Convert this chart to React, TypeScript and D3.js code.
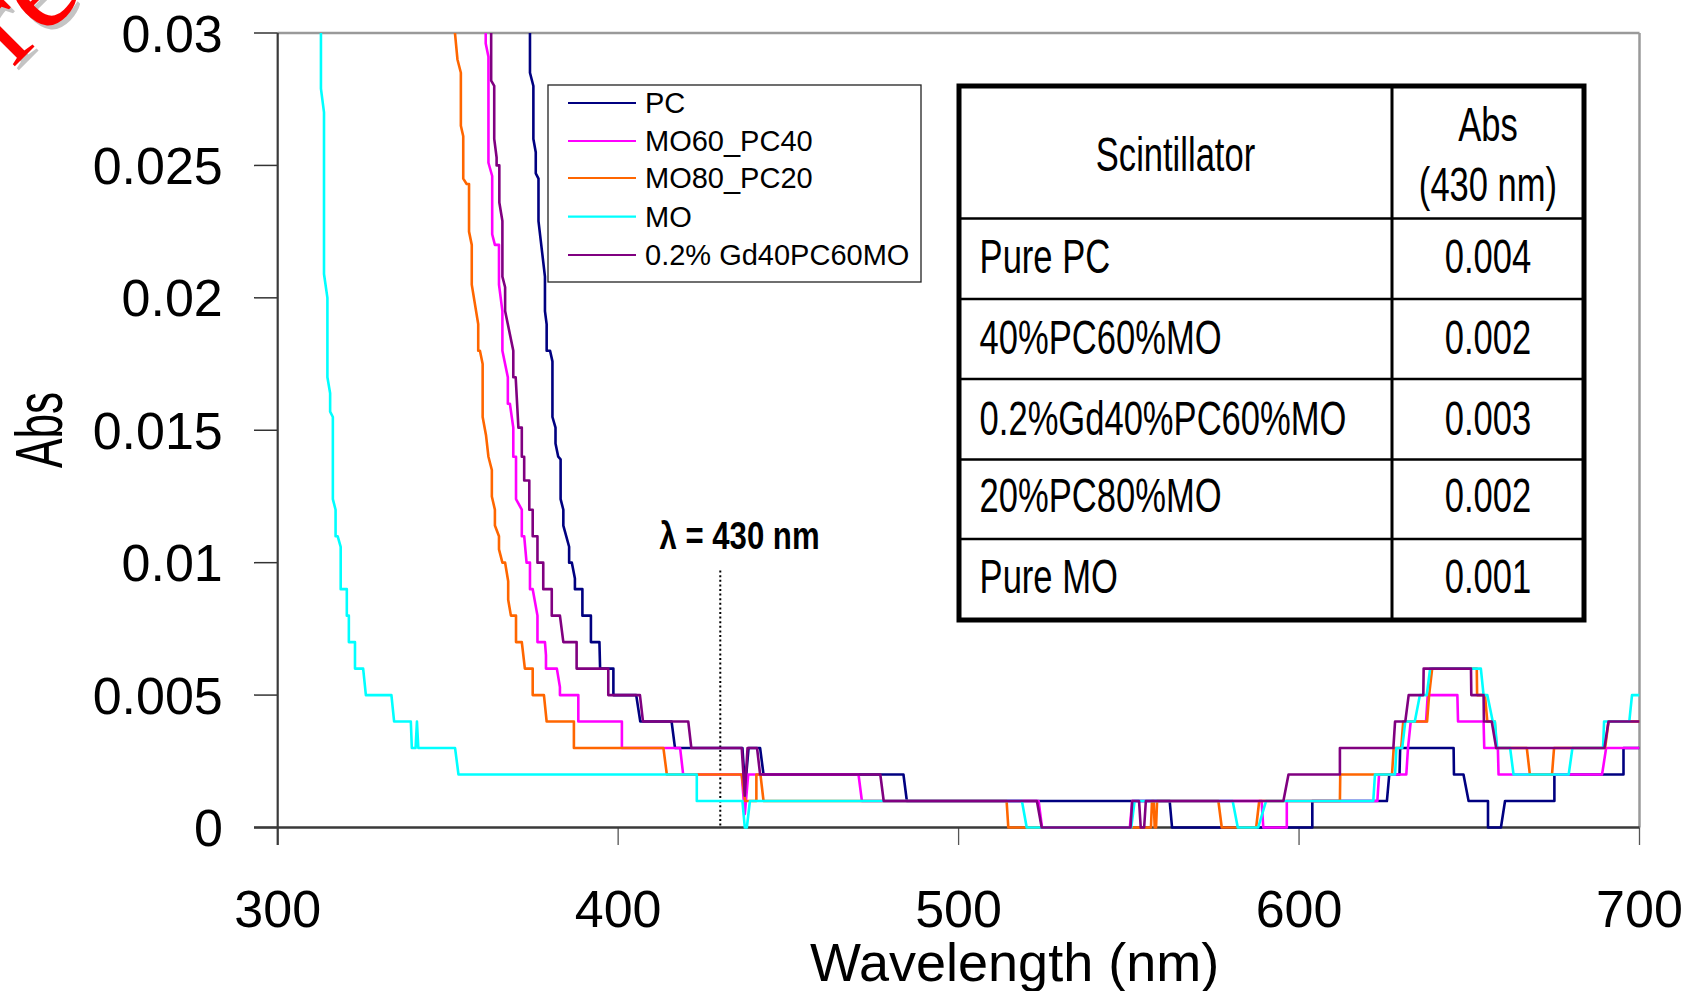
import React from "react";
import * as d3 from "d3";

// ---------- data ----------
const X_TICKS = [300, 400, 500, 600, 700];
const Y_TICKS = [0, 0.005, 0.01, 0.015, 0.02, 0.025, 0.03];
const Y_TICK_LABELS = ["0", "0.005", "0.01", "0.015", "0.02", "0.025", "0.03"];

const SERIES_NAMES = ["PC", "MO60_PC40", "MO80_PC20", "MO", "0.2% Gd40PC60MO"];
const SERIES_COLORS = ["#000080", "#FF00FF", "#FF6600", "#00FFFF", "#800080"];

const PC: [number, number][] = [
  [374.1, 0.032], [374.1, 0.0285], [375.1, 0.028], [375.1, 0.026], [375.8, 0.0255], [375.8, 0.0247],
  [376.6, 0.0245], [376.6, 0.0229], [378.5, 0.0208], [378.5, 0.0195], [379.0, 0.019], [379.0, 0.018],
  [380.0, 0.018], [380.7, 0.0176], [380.7, 0.0155], [381.6, 0.0151], [381.6, 0.0145], [382.4, 0.014],
  [383.1, 0.0139], [383.1, 0.0124], [383.9, 0.012], [383.9, 0.0114], [385.6, 0.0106], [385.6, 0.010],
  [386.4, 0.010], [387.3, 0.0094], [387.3, 0.009], [389.5, 0.009], [389.5, 0.008], [392.0, 0.008],
  [392.0, 0.007], [394.5, 0.007], [394.7, 0.006], [398.6, 0.006], [398.6, 0.005], [405.3, 0.005],
  [406.5, 0.004], [415.7, 0.004], [416.7, 0.003], [436.5, 0.003], [437.3, 0.0015], [438.3, 0.003],
  [441.7, 0.003], [442.7, 0.002], [483.8, 0.002], [484.8, 0.001], [562.0, 0.001], [562.7, 0],
  [603.9, 0], [603.9, 0.001], [625.8, 0.001], [626.5, 0.002], [629.5, 0.002], [629.7, 0.003],
  [645.4, 0.003], [645.5, 0.002], [648.3, 0.002], [649.8, 0.001], [655.5, 0.001], [655.5, 0],
  [659.3, 0], [660.5, 0.001], [675.0, 0.001], [675.0, 0.002], [695.3, 0.002], [695.3, 0.003], [700, 0.003],
];

const MO60_PC40: [number, number][] = [
  [361.1, 0.032], [361.1, 0.0296], [361.9, 0.0291], [361.9, 0.0251], [363.0, 0.0246], [363.0, 0.0224],
  [363.8, 0.022], [365.0, 0.022], [365.0, 0.0205], [366.0, 0.0195], [366.0, 0.018], [367.6, 0.017],
  [367.6, 0.016], [368.2, 0.016], [369.2, 0.0151], [369.2, 0.014], [370.0, 0.014], [370.0, 0.0124],
  [371.7, 0.012], [371.7, 0.011], [372.4, 0.011], [373.1, 0.010], [374.1, 0.010], [374.1, 0.009],
  [374.9, 0.009], [376.3, 0.008], [376.3, 0.007], [378.5, 0.007], [378.8, 0.0065], [378.8, 0.006],
  [382.0, 0.006], [382.9, 0.0053], [382.9, 0.005], [388.3, 0.005], [388.3, 0.004], [401.1, 0.004],
  [401.1, 0.003], [418.2, 0.003], [419.1, 0.002], [436.3, 0.002], [437.2, 0.0005], [438.2, 0.002],
  [470.6, 0.002], [471.6, 0.001], [523.5, 0.001], [524.5, 0], [550.3, 0], [551.0, 0.001],
  [589.0, 0.001], [589.5, 0], [596.4, 0], [596.4, 0.001], [623.0, 0.001], [623.5, 0.002],
  [631.5, 0.002], [632.0, 0.003], [632.8, 0.004], [637.3, 0.004], [637.8, 0.005], [646.5, 0.005],
  [646.7, 0.004], [654.2, 0.004], [654.4, 0.003], [658.4, 0.003], [658.6, 0.002], [689.0, 0.002],
  [690.2, 0.003], [700, 0.003],
];

const MO80_PC20: [number, number][] = [
  [351.7, 0.0305], [352.8, 0.029], [353.8, 0.0285], [353.8, 0.0265], [354.5, 0.0261], [354.5, 0.0245],
  [355.5, 0.0243], [356.2, 0.0243], [356.2, 0.0225], [357.0, 0.022], [357.0, 0.0205], [358.9, 0.019],
  [358.9, 0.018], [359.4, 0.018], [360.2, 0.0175], [360.2, 0.0155], [361.2, 0.0148], [361.9, 0.014],
  [362.9, 0.0135], [362.9, 0.0125], [363.8, 0.012], [363.8, 0.0114], [365.0, 0.011], [365.0, 0.0105],
  [366.0, 0.010], [366.8, 0.010], [367.7, 0.0093], [367.7, 0.0086], [368.5, 0.008], [370.0, 0.008],
  [370.0, 0.007], [371.7, 0.007], [372.6, 0.006], [374.9, 0.006], [374.9, 0.005], [378.2, 0.005],
  [379.0, 0.004], [387.0, 0.004], [387.0, 0.003], [413.3, 0.003], [414.3, 0.002], [436.3, 0.002],
  [437.3, 0.001], [440.6, 0.001], [440.6, 0.002], [441.8, 0.002], [442.7, 0.001], [514.1, 0.001],
  [514.6, 0], [556.5, 0], [556.8, 0.001], [557.3, 0.001], [557.6, 0], [558.0, 0], [558.3, 0.001],
  [576.3, 0.001], [577.3, 0], [587.4, 0], [588.3, 0.001], [612.0, 0.001], [612.1, 0.002],
  [627.3, 0.002], [627.8, 0.003], [630.0, 0.003], [630.6, 0.004], [637.6, 0.004], [638.2, 0.005],
  [639.1, 0.006], [652.2, 0.006], [652.3, 0.005], [654.6, 0.005], [655.3, 0.004], [657.5, 0.004],
  [658.0, 0.003], [666.9, 0.003], [667.8, 0.002], [674.3, 0.002], [674.9, 0.003], [689.9, 0.003],
  [690.9, 0.004], [700, 0.004],
];

const MO: [number, number][] = [
  [312.7, 0.032], [312.7, 0.0279], [313.6, 0.027], [313.6, 0.0209], [314.6, 0.020], [314.6, 0.017],
  [315.4, 0.0164], [315.4, 0.0157], [316.2, 0.0155], [316.2, 0.0124], [317.0, 0.012], [317.0, 0.011],
  [317.6, 0.011], [318.5, 0.0106], [318.5, 0.009], [320.3, 0.009], [320.3, 0.008], [320.9, 0.008],
  [320.9, 0.007], [322.7, 0.007], [322.7, 0.006], [325.1, 0.006], [325.9, 0.005], [333.4, 0.005],
  [334.2, 0.004], [339.1, 0.004], [339.4, 0.003], [340.5, 0.003], [340.9, 0.004], [341.3, 0.003],
  [352.1, 0.003], [353.1, 0.002], [423.1, 0.002], [423.1, 0.001], [436.5, 0.001], [437.2, 0],
  [437.8, 0], [438.7, 0.001], [518.6, 0.001], [520.0, 0], [550.7, 0], [551.7, 0.001], [580.5, 0.001],
  [582.0, 0], [588.0, 0], [590.3, 0.001], [621.8, 0.001], [622.3, 0.002], [628.2, 0.002],
  [628.6, 0.003], [630.3, 0.003], [631.2, 0.004], [634.0, 0.004], [635.5, 0.005], [637.5, 0.005],
  [638.5, 0.006], [653.4, 0.006], [654.2, 0.005], [655.3, 0.005], [656.9, 0.004], [657.5, 0.004],
  [658.2, 0.003], [662.0, 0.003], [663.0, 0.002], [679.2, 0.002], [680.3, 0.003], [689.3, 0.003],
  [689.6, 0.004], [697.0, 0.004], [697.8, 0.005], [700, 0.005],
];

const GD40PC60MO: [number, number][] = [
  [362.7, 0.032], [362.7, 0.0282], [363.6, 0.028], [363.6, 0.026], [364.3, 0.0253], [364.3, 0.025],
  [365.1, 0.025], [365.1, 0.0236], [366.0, 0.0229], [366.0, 0.0208], [366.8, 0.0204], [366.8, 0.0195],
  [369.2, 0.018], [369.2, 0.017], [369.9, 0.017], [370.7, 0.0151], [371.7, 0.0151], [371.7, 0.014],
  [372.4, 0.014], [372.4, 0.0131], [373.9, 0.0131], [373.9, 0.012], [374.9, 0.012], [374.9, 0.011],
  [376.3, 0.011], [376.3, 0.010], [378.0, 0.010], [378.0, 0.009], [380.5, 0.009], [380.5, 0.008],
  [382.9, 0.008], [383.9, 0.007], [387.8, 0.007], [387.8, 0.006], [397.1, 0.006], [397.1, 0.005],
  [406.4, 0.005], [407.3, 0.004], [420.6, 0.004], [421.5, 0.003], [436.3, 0.003], [437.2, 0.0012],
  [438.0, 0.003], [440.8, 0.003], [441.7, 0.002], [477.0, 0.002], [478.0, 0.001], [523.0, 0.001],
  [524.4, 0], [550.5, 0], [551.0, 0.001], [553.0, 0.001], [553.5, 0], [554.5, 0], [555.0, 0.001],
  [595.4, 0.001], [596.9, 0.002], [612.0, 0.002], [612.0, 0.003], [627.7, 0.003], [628.2, 0.004],
  [631.2, 0.004], [632.2, 0.005], [636.5, 0.005], [636.6, 0.006], [650.5, 0.006], [650.6, 0.005],
  [654.2, 0.005], [654.3, 0.004], [656.6, 0.004], [657.9, 0.003], [689.7, 0.003], [690.9, 0.004],
  [700, 0.004],
];

const SERIES_DATA = [PC, MO60_PC40, MO80_PC20, MO, GD40PC60MO];

const MARKER_WAVELENGTH = 430;
const MARKER_TOP_ABS = 0.0097;

const TABLE_HEADER = ["Scintillator", "Abs", "(430 nm)"];
const TABLE_NAMES = ["Pure PC", "40%PC60%MO", "0.2%Gd40%PC60%MO", "20%PC80%MO", "Pure MO"];
const TABLE_VALUES = ["0.004", "0.002", "0.003", "0.002", "0.001"];

// ---------- layout ----------
const W = 1688;
const H = 991;
const PL = 277.7, PR = 1639.5, PT = 33, PB = 827.5;

export default function App() {
  const x = d3.scaleLinear().domain([300, 700]).range([PL, PR]);
  const y = d3.scaleLinear().domain([0, 0.03]).range([PB, PT]);
  const line = d3
    .line<[number, number]>()
    .x((d) => x(d[0]))
    .y((d) => y(d[1]));

  const font = "'Liberation Sans', Arial, sans-serif";

  // table geometry
  const tX0 = 959, tX1 = 1584, tXc = 1392;
  const tRows = [86, 218.5, 299, 379, 459.5, 539, 620];
  const rowBaselines = [273, 354, 435, 512, 593];

  // legend geometry
  const lgX = 548, lgY = 85, lgW = 373, lgH = 197;
  const lgRowY = [103, 141, 178, 216.7, 255];

  return (
    <svg
      width={W}
      height={H}
      style={{ position: "absolute", left: 0, top: 0, background: "#fff" }}
      fontFamily={font}
    >
      <rect x={0} y={0} width={W} height={H} fill="#fff" />
      <defs>
        <clipPath id="plotclip">
          <rect x={PL} y={PT} width={PR - PL} height={PB - PT + 2} />
        </clipPath>
      </defs>

      {/* watermark fragment */}
      <g fontFamily="'Liberation Serif', 'DejaVu Serif', serif" fontSize={128}>
        <text transform="translate(17,72) rotate(-45)" fill="#c4c4c4">red</text>
        <text transform="translate(13,68) rotate(-45)" fill="#ff0000">red</text>
      </g>

      {/* plot frame: top and right gray */}
      <line x1={PL} x2={PR} y1={PT} y2={PT} stroke="#9a9a9a" strokeWidth={2.5} />
      <line x1={PR} x2={PR} y1={PT} y2={PB} stroke="#9a9a9a" strokeWidth={2.5} />

      {/* y ticks */}
      {Y_TICKS.map((t, i) => (
        <g key={"yt" + i}>
          <line x1={254} x2={PL} y1={y(t)} y2={y(t)} stroke="#333" strokeWidth={1.5} />
          <text x={222.8} y={y(t) + 18.6} textAnchor="end" fontSize={52} fill="#000">
            {Y_TICK_LABELS[i]}
          </text>
        </g>
      ))}

      {/* x ticks */}
      {X_TICKS.map((t, i) => (
        <g key={"xt" + i}>
          <line x1={x(t)} x2={x(t)} y1={PB} y2={845} stroke="#555" strokeWidth={1.3} />
          <text x={x(t)} y={927} textAnchor="middle" fontSize={52} fill="#000">
            {t}
          </text>
        </g>
      ))}

      {/* axes */}
      <line x1={PL} x2={PL} y1={PT} y2={845} stroke="#3a3a3a" strokeWidth={2.2} />
      <line x1={254} x2={PR} y1={PB} y2={PB} stroke="#3a3a3a" strokeWidth={2.5} />

      {/* axis titles */}
      <text x={1014.6} y={981} textAnchor="middle" fontSize={54} fill="#000">
        Wavelength (nm)
      </text>
      <text transform="translate(62,430) rotate(-90) scale(0.66,1)" textAnchor="middle" fontSize={67} fill="#000">
        Abs
      </text>

      {/* 430 nm marker */}
      <line
        x1={x(MARKER_WAVELENGTH)}
        x2={x(MARKER_WAVELENGTH)}
        y1={y(MARKER_TOP_ABS)}
        y2={PB}
        stroke="#000"
        strokeWidth={2}
        strokeDasharray="2,2.6"
      />
      <text
        transform={`translate(739.5,549) scale(0.82,1)`}
        textAnchor="middle"
        fontSize={38}
        fontWeight="bold"
        fill="#000"
      >
        λ = 430 nm
      </text>

      {/* series */}
      <g clipPath="url(#plotclip)">
        {SERIES_DATA.map((d, i) => (
          <path
            key={"s" + i}
            d={line(d) || ""}
            fill="none"
            stroke={SERIES_COLORS[i]}
            strokeWidth={2.6}
            strokeLinejoin="round"
          />
        ))}
      </g>

      {/* legend */}
      <rect x={lgX} y={lgY} width={lgW} height={lgH} fill="#fff" stroke="#222" strokeWidth={1.3} />
      {SERIES_NAMES.map((n, i) => (
        <g key={"lg" + i}>
          <line x1={568} x2={636} y1={lgRowY[i]} y2={lgRowY[i]} stroke={SERIES_COLORS[i]} strokeWidth={2.2} />
          <text x={645} y={lgRowY[i] + 10.4} fontSize={29} fill="#000">
            {n}
          </text>
        </g>
      ))}

      {/* table */}
      <rect x={tX0} y={tRows[0]} width={tX1 - tX0} height={tRows[6] - tRows[0]} fill="#fff" />
      {tRows.slice(1, 6).map((ry, i) => (
        <line key={"tr" + i} x1={tX0} x2={tX1} y1={ry} y2={ry} stroke="#000" strokeWidth={2.5} />
      ))}
      <line x1={tXc} x2={tXc} y1={tRows[0]} y2={tRows[6]} stroke="#000" strokeWidth={3} />
      <rect
        x={tX0}
        y={tRows[0]}
        width={tX1 - tX0}
        height={tRows[6] - tRows[0]}
        fill="none"
        stroke="#000"
        strokeWidth={5}
      />
      <text transform="translate(1175.5,171) scale(0.72,1)" textAnchor="middle" fontSize={48} fill="#000">
        {TABLE_HEADER[0]}
      </text>
      <text transform="translate(1488,141) scale(0.72,1)" textAnchor="middle" fontSize={48} fill="#000">
        {TABLE_HEADER[1]}
      </text>
      <text transform="translate(1488,201) scale(0.72,1)" textAnchor="middle" fontSize={48} fill="#000">
        {TABLE_HEADER[2]}
      </text>
      {TABLE_NAMES.map((n, i) => (
        <g key={"tn" + i}>
          <text transform={`translate(979.6,${rowBaselines[i]}) scale(0.72,1)`} fontSize={48} fill="#000">
            {n}
          </text>
          <text
            transform={`translate(1488,${rowBaselines[i]}) scale(0.72,1)`}
            textAnchor="middle"
            fontSize={48}
            fill="#000"
          >
            {TABLE_VALUES[i]}
          </text>
        </g>
      ))}
    </svg>
  );
}
